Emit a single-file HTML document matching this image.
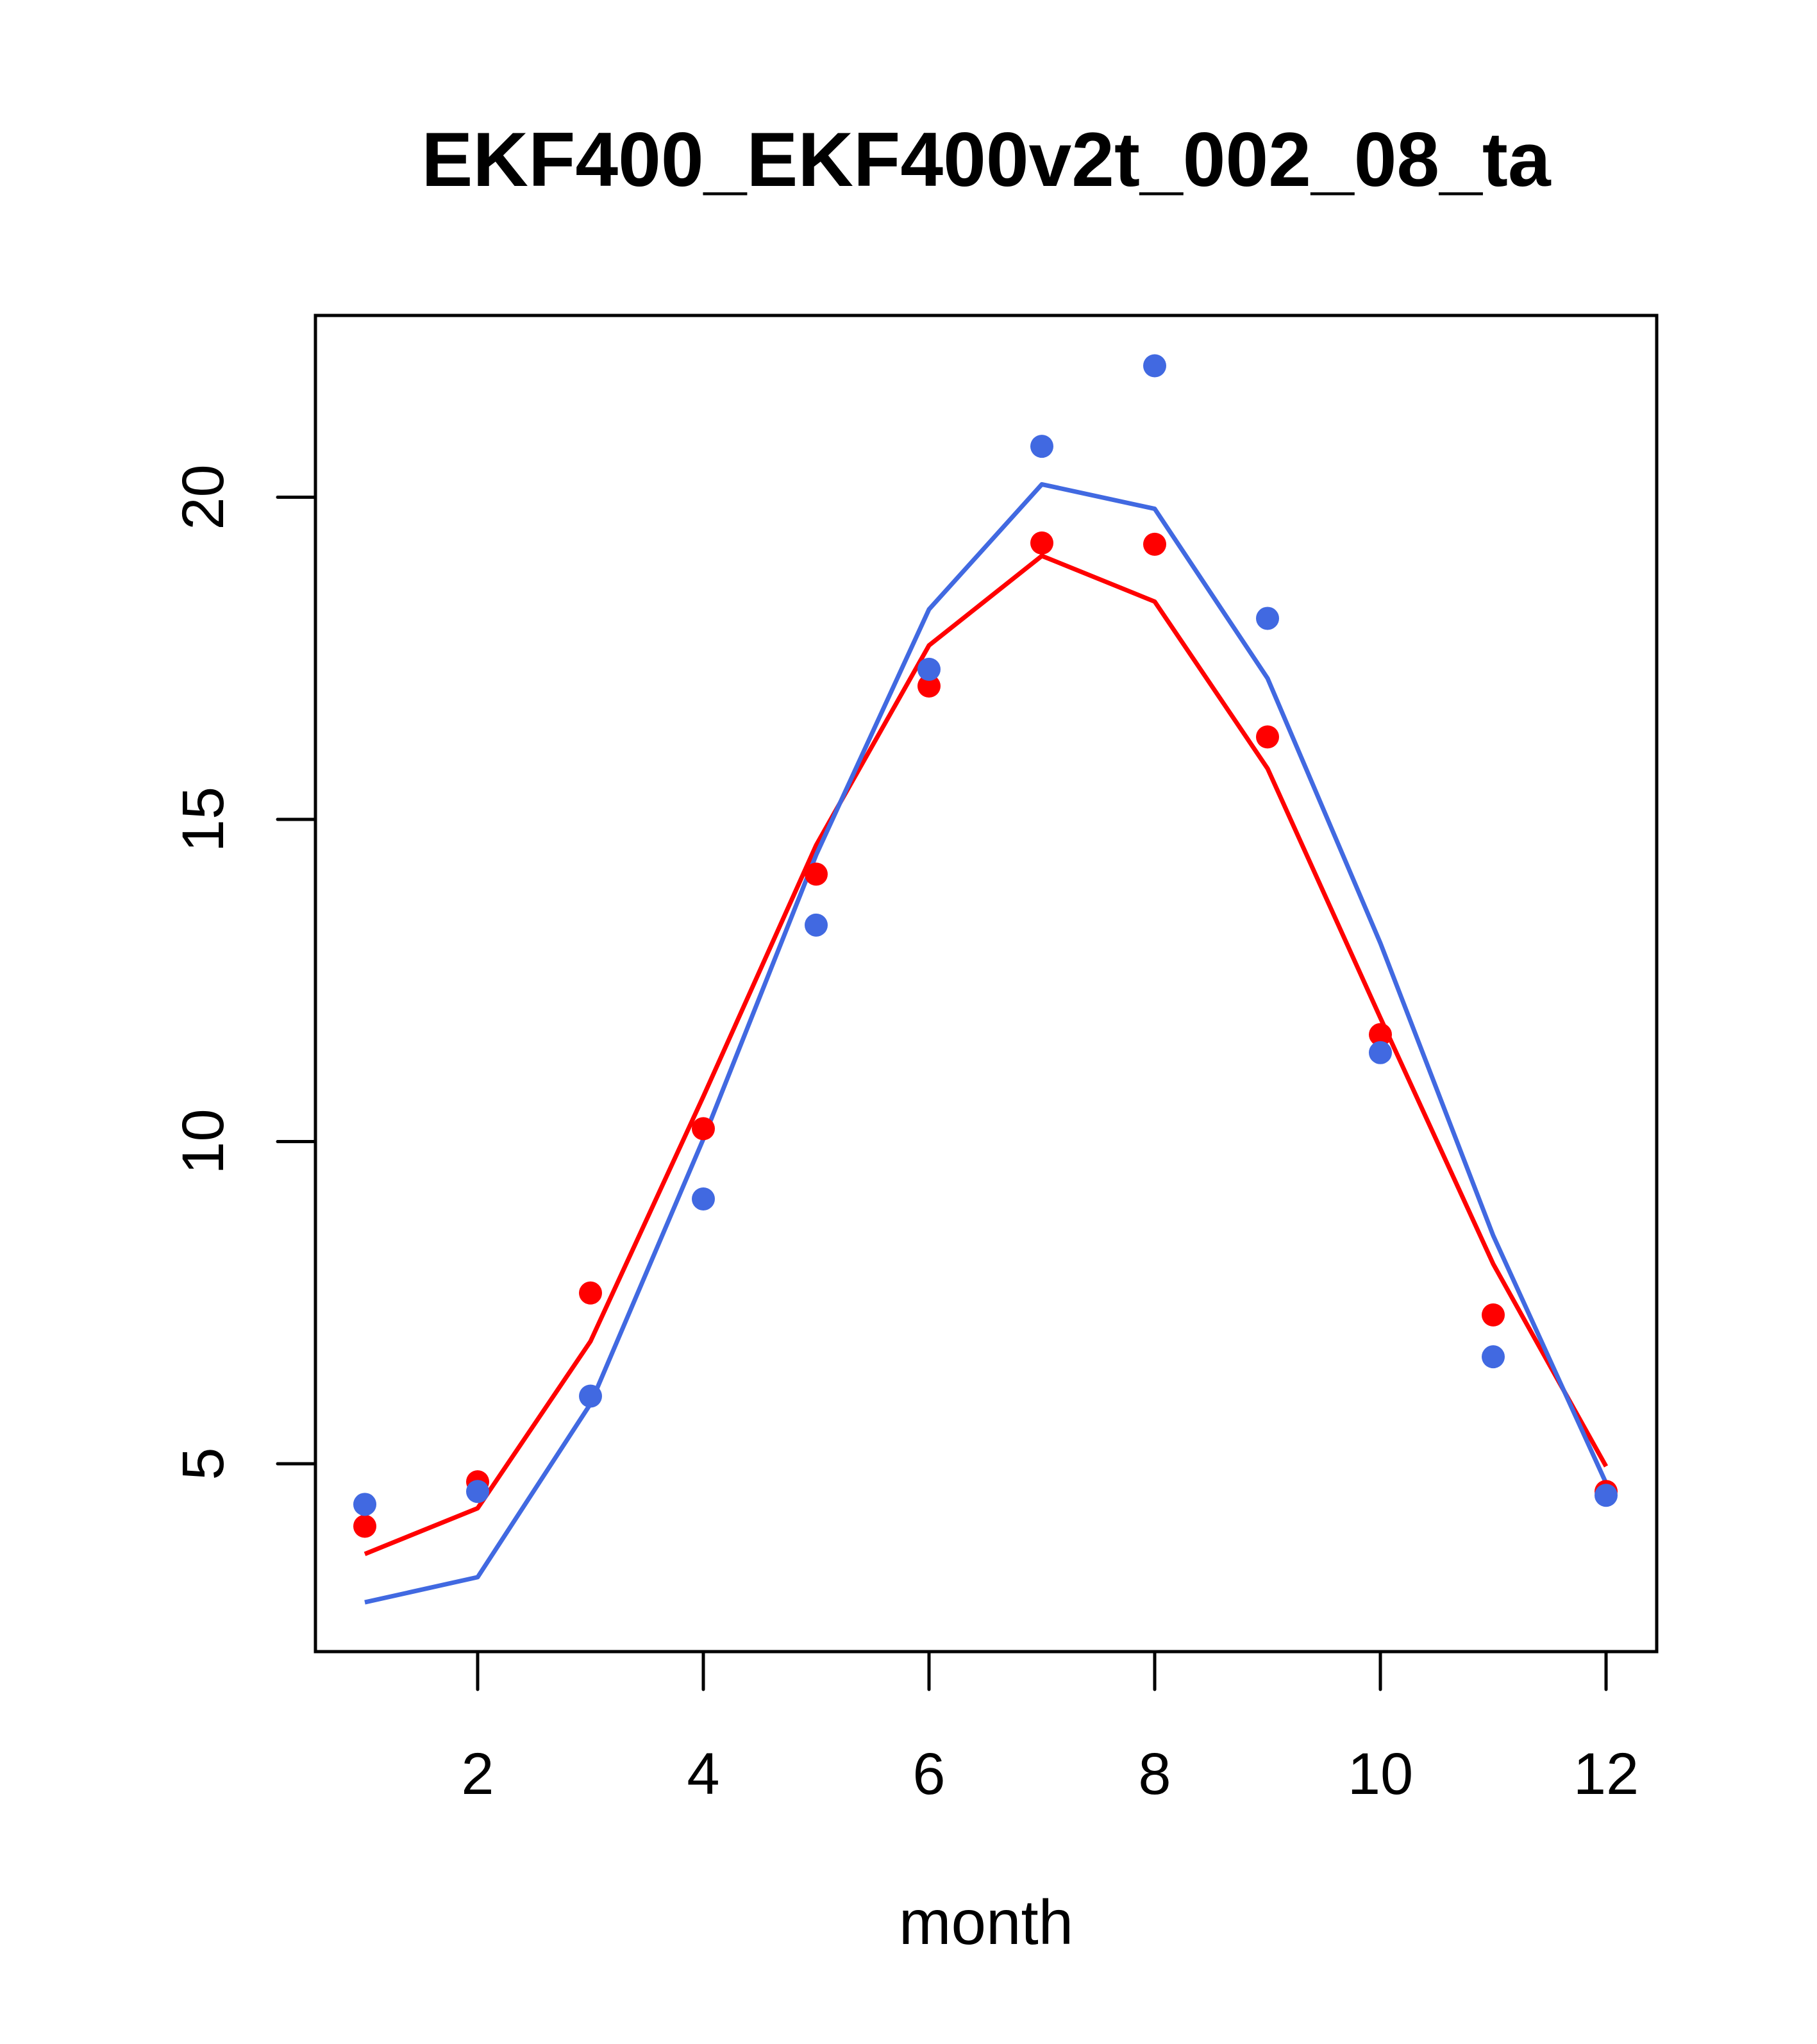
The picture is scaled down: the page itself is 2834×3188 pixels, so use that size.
<!DOCTYPE html>
<html><head><meta charset="utf-8"><style>html,body{margin:0;padding:0;background:#fff}svg{display:block}</style></head>
<body>
<svg width="2834" height="3188" xmlns="http://www.w3.org/2000/svg" font-family="Liberation Sans, sans-serif">
<rect width="2834" height="3188" fill="#fff"/>
<text x="1538" y="290" font-size="120" font-weight="bold" text-anchor="middle">EKF400_EKF400v2t_002_08_ta</text>
<rect x="492" y="492" width="2092" height="2084" fill="none" stroke="#000" stroke-width="5"/>
<g id="xaxis"></g>
<g id="yaxis"></g>
<g id="series"></g>
<text x="1538" y="3032" font-size="98" text-anchor="middle">month</text>
</svg>
<script>
const months=[1,2,3,4,5,6,7,8,9,10,11,12];
const redPoints=[4.03,4.72,7.65,10.2,14.15,17.07,19.29,19.27,16.28,11.66,7.31,4.57];
const bluePoints=[4.37,4.57,6.05,9.11,13.36,17.33,20.79,22.04,18.12,11.38,6.66,4.51];
const redLine=[3.6,4.31,6.9,10.7,14.6,17.7,19.09,18.38,15.79,11.92,8.1,4.96];
const blueLine=[2.85,3.24,5.93,10.04,14.45,18.26,20.2,19.82,17.19,13.08,8.54,4.7];
const xTicks=[2,4,6,8,10,12];
const yTicks=[5,10,15,20];
const NS='http://www.w3.org/2000/svg';
function X(m){return 1625+(m-7)*176;}
function Y(v){return 2283-(v-5)*100.5;}
function mk(t,a,p){const e=document.createElementNS(NS,t);for(const k in a)e.setAttribute(k,a[k]);p.appendChild(e);return e;}
const xa=document.getElementById('xaxis'),ya=document.getElementById('yaxis'),se=document.getElementById('series');
xTicks.forEach(t=>{
 const l=mk('line',{x1:X(t),x2:X(t),y1:2576,y2:2635,stroke:'#000','stroke-width':5,'stroke-linecap':'round'},xa);
 
 
 const tx=mk('text',{x:X(t),y:2798,'font-size':92,'text-anchor':'middle'},xa);tx.textContent=t;
 
 
});
yTicks.forEach(t=>{
 const l=mk('line',{x1:433,x2:492,y1:Y(t),y2:Y(t),stroke:'#000','stroke-width':5,'stroke-linecap':'round'},ya);
 
 
 const tx=mk('text',{x:0,y:0,'font-size':92,'text-anchor':'middle',transform:`translate(348,${Y(t)}) rotate(-90)`},ya);tx.textContent=t;
 
 
});
function line(vals,c,name){
 const p=mk('polyline',{points:vals.map((v,i)=>X(months[i])+','+Y(v)).join(' '),fill:'none',stroke:c,'stroke-width':7,'stroke-linejoin':'round'},se);
 
 
}
function pts(vals,c,name){
 vals.forEach((v,i)=>{const e=mk('circle',{cx:X(months[i]),cy:Y(v),r:18,fill:c},se);
 
 });
}
line(redLine,'#ff0000','red-line');
line(blueLine,'#4169e1','blue-line');
pts(redPoints,'#ff0000','red-point');
pts(bluePoints,'#4169e1','blue-point');
</script>
</body></html>
